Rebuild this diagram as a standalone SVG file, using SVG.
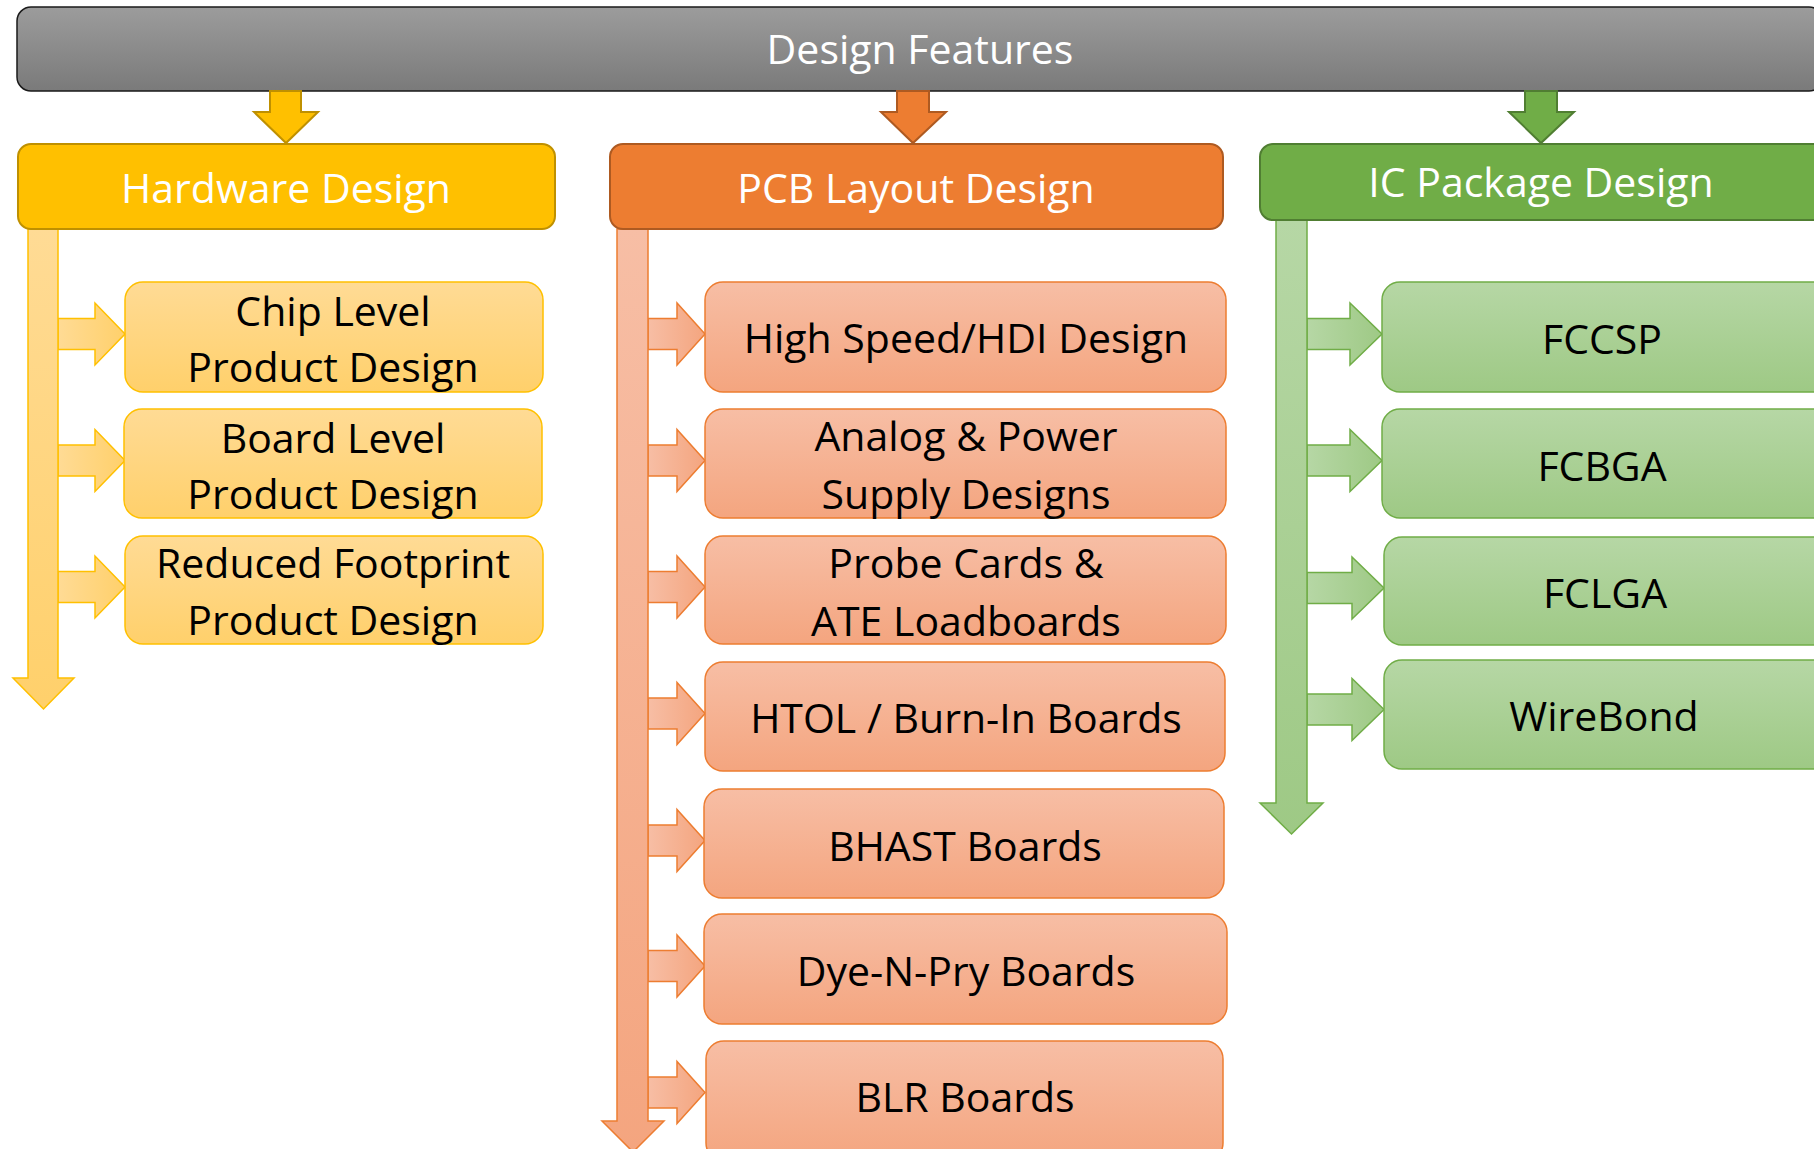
<svg xmlns="http://www.w3.org/2000/svg" width="1814" height="1149" viewBox="0 0 1814 1149">
  <defs>
    <linearGradient id="gTop" x1="0" y1="0" x2="0" y2="1">
      <stop offset="0" stop-color="#9c9c9c"/>
      <stop offset="1" stop-color="#7a7a7a"/>
    </linearGradient>
    <linearGradient id="gYel" x1="0" y1="0" x2="0" y2="1">
      <stop offset="0" stop-color="#ffdb95"/>
      <stop offset="1" stop-color="#ffd06b"/>
    </linearGradient>
    <linearGradient id="gOra" x1="0" y1="0" x2="0" y2="1">
      <stop offset="0" stop-color="#f7bea5"/>
      <stop offset="1" stop-color="#f4a57f"/>
    </linearGradient>
    <linearGradient id="gGrn" x1="0" y1="0" x2="0" y2="1">
      <stop offset="0" stop-color="#b6d7a5"/>
      <stop offset="1" stop-color="#9ec985"/>
    </linearGradient>
    <linearGradient id="hYel" x1="0" y1="0" x2="1" y2="0">
      <stop offset="0" stop-color="#ffdb95"/>
      <stop offset="1" stop-color="#ffd06b"/>
    </linearGradient>
    <linearGradient id="hOra" x1="0" y1="0" x2="1" y2="0">
      <stop offset="0" stop-color="#f7bea5"/>
      <stop offset="1" stop-color="#f4a57f"/>
    </linearGradient>
    <linearGradient id="hGrn" x1="0" y1="0" x2="1" y2="0">
      <stop offset="0" stop-color="#b6d7a5"/>
      <stop offset="1" stop-color="#9ec985"/>
    </linearGradient>
  </defs>
  <style>
    text { font-family: "Open Sans", "Noto Sans", "Liberation Sans", sans-serif; font-size: 41px; text-anchor: middle; }
    .white { fill: #ffffff; }
    .dark { fill: #000000; }
    .top { fill: url(#gTop); stroke: #1a1a1a; stroke-width: 1.5; }
    .hdrY { fill: #ffc000; stroke: #bf9000; stroke-width: 2; }
    .hdrO { fill: #ed7d31; stroke: #ae5a21; stroke-width: 2; }
    .hdrG { fill: #70ad47; stroke: #507e32; stroke-width: 2; }
    .boxY { fill: url(#gYel); stroke: #ffc000; stroke-width: 1.5; }
    .boxO { fill: url(#gOra); stroke: #ed7d31; stroke-width: 1.5; }
    .boxG { fill: url(#gGrn); stroke: #70ad47; stroke-width: 1.5; }
    .barY { fill: url(#gYel); stroke: #ffc000; stroke-width: 1.5; }
    .barO { fill: url(#gOra); stroke: #ed7d31; stroke-width: 1.5; }
    .barG { fill: url(#gGrn); stroke: #70ad47; stroke-width: 1.5; }
    .armY { fill: url(#hYel); stroke: #ffc000; stroke-width: 1.5; }
    .armO { fill: url(#hOra); stroke: #ed7d31; stroke-width: 1.5; }
    .armG { fill: url(#hGrn); stroke: #70ad47; stroke-width: 1.5; }
  </style>

  <!-- title bar -->
  <g id="design-features">
    <rect class="top" x="17" y="7" width="1806" height="84" rx="14"/>
    <text class="white" x="920" y="64">Design Features</text>
  </g>

  <!-- connectors: drop arrows, spines and branch arrows -->
  <g id="connectors">
    <path class="hdrY" d="M270 91 H301 V112 H318 L286 143 L254 112 H270 Z"/>
    <path class="hdrO" d="M897 91 H929 V112 H946 L913 143 L881 112 H897 Z"/>
    <path class="hdrG" d="M1525 91 H1557 V112 H1574 L1541 143 L1509 112 H1525 Z"/>

    <!-- hardware branches -->
    <path class="armY" d="M58 318.5 H95 V303 L125 334 L95 365 V349.5 H58 Z"/>
    <path class="armY" d="M58 445 H95 V429.5 L125 460.5 L95 491.5 V476 H58 Z"/>
    <path class="armY" d="M58 571.5 H95 V556 L125 587 L95 618 V602.5 H58 Z"/>
    <path class="barY" d="M28 229 H58 V678 H74 L43.5 709 L13 678 H28 Z"/>

    <!-- PCB branches -->
    <path class="armO" d="M648 318.5 H677 V303 L705 334 L677 365 V349.5 H648 Z"/>
    <path class="armO" d="M648 445 H677 V429.5 L705 460.5 L677 491.5 V476 H648 Z"/>
    <path class="armO" d="M648 571.5 H677 V556 L705 587 L677 618 V602.5 H648 Z"/>
    <path class="armO" d="M648 698 H677 V682.5 L705 713.5 L677 744.5 V729 H648 Z"/>
    <path class="armO" d="M648 825 H677 V809.5 L705 840.5 L677 871.5 V856 H648 Z"/>
    <path class="armO" d="M648 950.5 H677 V935 L705 966 L677 997 V981.5 H648 Z"/>
    <path class="armO" d="M648 1077 H677 V1061.5 L705 1092.5 L677 1123.5 V1108 H648 Z"/>
    <path class="barO" d="M617 229 H648 V1121 H664 L633 1152 L602 1121 H617 Z"/>

    <!-- IC package branches -->
    <path class="armG" d="M1307 318.5 H1350 V303 L1382 334 L1350 365 V349.5 H1307 Z"/>
    <path class="armG" d="M1307 445 H1350 V429.5 L1382 460.5 L1350 491.5 V476 H1307 Z"/>
    <path class="armG" d="M1307 572.5 H1352 V557 L1384 588 L1352 619 V603.5 H1307 Z"/>
    <path class="armG" d="M1307 694 H1352 V678.5 L1384 709.5 L1352 740.5 V725 H1307 Z"/>
    <path class="barG" d="M1276 220 H1307 V803 H1323 L1291.5 834 L1260 803 H1276 Z"/>
  </g>

  <!-- column headers -->
  <g id="hardware-design">
    <rect class="hdrY" x="18" y="144" width="537" height="85" rx="13"/>
    <text class="white" x="286" y="203">Hardware Design</text>
  </g>
  <g id="pcb-layout-design">
    <rect class="hdrO" x="610" y="144" width="613" height="85" rx="13"/>
    <text class="white" x="916" y="203">PCB Layout Design</text>
  </g>
  <g id="ic-package-design">
    <rect class="hdrG" x="1260" y="144" width="580" height="76" rx="13"/>
    <text class="white" x="1541" y="197">IC Package Design</text>
  </g>

  <!-- hardware items -->
  <g id="chip-level">
    <rect class="boxY" x="125" y="282" width="418" height="110" rx="18"/>
    <text class="dark" x="333" y="326">Chip Level</text>
    <text class="dark" x="333" y="382">Product Design</text>
  </g>
  <g id="board-level">
    <rect class="boxY" x="124" y="409" width="418" height="109" rx="18"/>
    <text class="dark" x="333" y="453">Board Level</text>
    <text class="dark" x="333" y="509">Product Design</text>
  </g>
  <g id="reduced-footprint">
    <rect class="boxY" x="125" y="536" width="418" height="108" rx="18"/>
    <text class="dark" x="333" y="578">Reduced Footprint</text>
    <text class="dark" x="333" y="635">Product Design</text>
  </g>

  <!-- PCB items -->
  <g id="high-speed">
    <rect class="boxO" x="705" y="282" width="521" height="110" rx="18"/>
    <text class="dark" x="966" y="353">High Speed/HDI Design</text>
  </g>
  <g id="analog-power">
    <rect class="boxO" x="705" y="409" width="521" height="109" rx="18"/>
    <text class="dark" x="966" y="451">Analog &amp; Power</text>
    <text class="dark" x="966" y="509">Supply Designs</text>
  </g>
  <g id="probe-cards">
    <rect class="boxO" x="705" y="536" width="521" height="108" rx="18"/>
    <text class="dark" x="966" y="578">Probe Cards &amp;</text>
    <text class="dark" x="966" y="636">ATE Loadboards</text>
  </g>
  <g id="htol">
    <rect class="boxO" x="705" y="662" width="520" height="109" rx="18"/>
    <text class="dark" x="966" y="733">HTOL / Burn-In Boards</text>
  </g>
  <g id="bhast">
    <rect class="boxO" x="704" y="789" width="520" height="109" rx="18"/>
    <text class="dark" x="965" y="861">BHAST Boards</text>
  </g>
  <g id="dye-n-pry">
    <rect class="boxO" x="704" y="914" width="523" height="110" rx="18"/>
    <text class="dark" x="966" y="986">Dye-N-Pry Boards</text>
  </g>
  <g id="blr">
    <rect class="boxO" x="706" y="1041" width="517" height="120" rx="18"/>
    <text class="dark" x="965" y="1112">BLR Boards</text>
  </g>

  <!-- IC package items -->
  <g id="fccsp">
    <rect class="boxG" x="1382" y="282" width="460" height="110" rx="18"/>
    <text class="dark" x="1602" y="354">FCCSP</text>
  </g>
  <g id="fcbga">
    <rect class="boxG" x="1382" y="409" width="460" height="109" rx="18"/>
    <text class="dark" x="1602" y="481">FCBGA</text>
  </g>
  <g id="fclga">
    <rect class="boxG" x="1384" y="537" width="460" height="108" rx="18"/>
    <text class="dark" x="1605" y="608">FCLGA</text>
  </g>
  <g id="wirebond">
    <rect class="boxG" x="1384" y="660" width="460" height="109" rx="18"/>
    <text class="dark" x="1604" y="731">WireBond</text>
  </g>
</svg>
